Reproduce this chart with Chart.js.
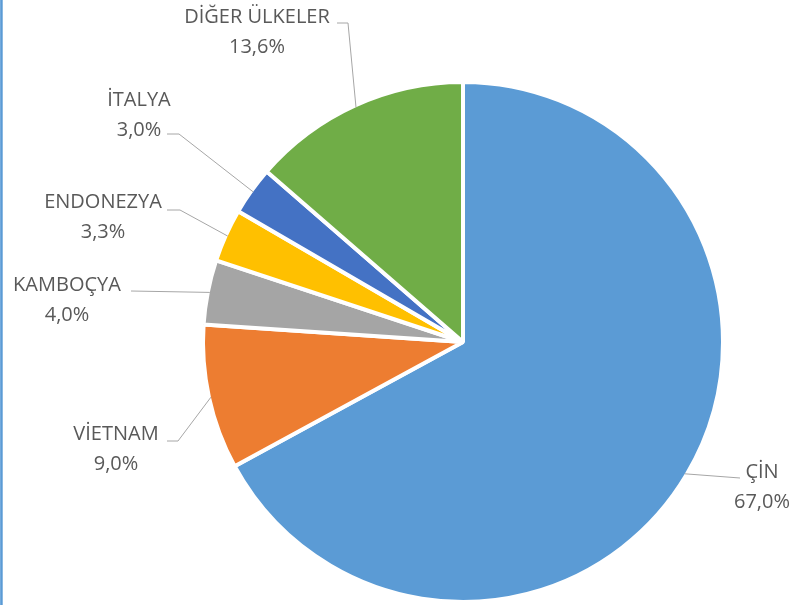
<!DOCTYPE html>
<html>
<head>
<meta charset="utf-8">
<script src="https://cdn.jsdelivr.net/npm/chart.js@4/dist/chart.umd.min.js"></script>
<style>
  html, body { margin: 0; padding: 0; background: #ffffff; }
  #wrap { position: relative; width: 795px; height: 605px; overflow: hidden; }
  #edge { position: absolute; left: 0; top: 0; width: 3px; height: 605px;
          background: linear-gradient(to right, #8dbbe6 0px, #5b9bd5 1px, #5b9bd5 2px, #b9d5ee 3px); }
  canvas { display: block; }
  #fontwarm { position: absolute; left: -1000px; top: 0; font-family: "Open Sans"; font-size: 20px; }
</style>
</head>
<body>
<div id="wrap">
  <canvas id="c" width="795" height="605"></canvas>
  <div id="edge"></div>
</div>
<span id="fontwarm">DİĞER ÜLKELER 13,6%</span>
<script>
// ---- data ----
const categories = ['ÇİN', 'VİETNAM', 'KAMBOÇYA', 'ENDONEZYA', 'İTALYA', 'DİĞER ÜLKELER'];
const shares = [67.0, 9.0, 4.0, 3.3, 3.0, 13.6];
const sliceColors = ['#5B9BD5', '#ED7D31', '#A5A5A5', '#FFC000', '#4472C4', '#70AD47'];

// ---- label layout (text centre of first line, leader elbow and end) ----
const labelLayout = [
  { tx: 762, ty: 472, ex: 740, ey: 478, lx: 740, ly: 478 },
  { tx: 116, ty: 434, ex: 178, ey: 441, lx: 167, ly: 441 },
  { tx: 67,  ty: 285, ex: 131, ey: 291, lx: 131, ly: 291 },
  { tx: 103, ty: 202, ex: 180, ey: 210, lx: 167, ly: 210 },
  { tx: 139, ty: 100, ex: 179, ey: 134, lx: 167, ly: 134 },
  { tx: 257, ty: 17,  ex: 348, ey: 23,  lx: 337, ly: 23 }
];
const labelFont = '20px "Open Sans"';
const lineGap = 30;

const fmt = v => v.toFixed(1).replace('.', ',') + '%';

const labelPlugin = {
  id: 'pieLabels',
  afterDatasetsDraw(chart) {
    const ctx = chart.ctx;
    const meta = chart.getDatasetMeta(0);
    ctx.save();
    meta.data.forEach((arc, i) => {
      const p = arc.getProps(['x', 'y', 'startAngle', 'endAngle', 'outerRadius'], true);
      const mid = (p.startAngle + p.endAngle) / 2;
      const r = p.outerRadius - 2;
      const ax = p.x + Math.cos(mid) * r;
      const ay = p.y + Math.sin(mid) * r;
      const L = labelLayout[i];
      ctx.strokeStyle = '#A6A6A6';
      ctx.lineWidth = 1;
      ctx.beginPath();
      ctx.moveTo(ax, ay);
      ctx.lineTo(L.ex, L.ey);
      ctx.lineTo(L.lx, L.ly);
      ctx.stroke();
      ctx.fillStyle = '#595959';
      ctx.font = labelFont;
      ctx.textAlign = 'center';
      ctx.textBaseline = 'middle';
      ctx.fillText(categories[i], L.tx, L.ty);
      ctx.fillText(fmt(shares[i]), L.tx, L.ty + lineGap);
    });
    ctx.restore();
  }
};

function draw() {
  new Chart(document.getElementById('c'), {
    type: 'pie',
    data: {
      labels: categories,
      datasets: [{
        data: shares,
        backgroundColor: sliceColors,
        borderColor: '#ffffff',
        borderWidth: 4,
        hoverOffset: 0,
        offset: 0
      }]
    },
    options: {
      responsive: false,
      animation: false,
      radius: 260,
      layout: { padding: { top: 79, bottom: 0, left: 163, right: 32 } },
      plugins: {
        legend: { display: false },
        tooltip: { enabled: false }
      },
      events: []
    },
    plugins: [labelPlugin]
  });
}

if (document.fonts && document.fonts.load) {
  document.fonts.load(labelFont, 'DİĞER ÜLKELER').then(draw, draw);
} else {
  draw();
}
</script>
</body>
</html>
